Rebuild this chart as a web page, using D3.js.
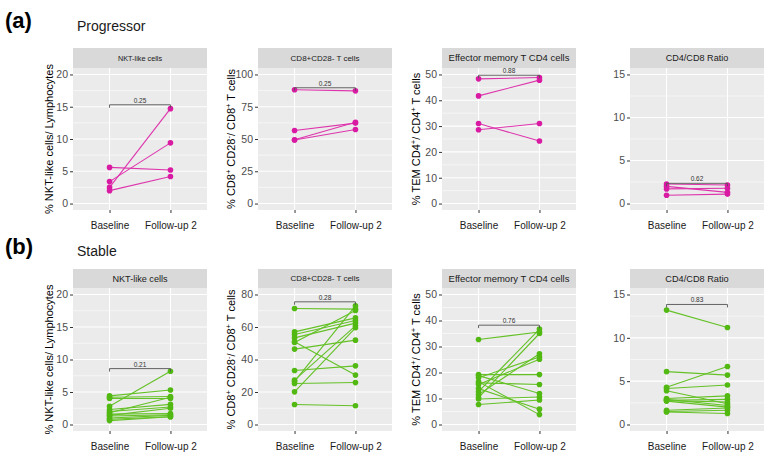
<!DOCTYPE html>
<html><head><meta charset="utf-8">
<script src="https://cdn.jsdelivr.net/npm/d3@7"></script>
<style>body{margin:0;background:#fff}svg{display:block;font-family:"Liberation Sans",Arial,sans-serif}</style>
</head><body><svg id="c" width="774" height="463"></svg>
<script>
// ---------- data ----------
const timepoints = ["Baseline", "Follow-up 2"];
const metrics = ["NKT-like cells", "CD8+CD28- T cells", "Effector memory T CD4 cells", "CD4/CD8 Ratio"];

// Progressor (a)
const progNKTBase    = [5.6, 3.4, 2.5, 2.0];
const progNKTFollow  = [5.2, 9.4, 14.7, 4.2];
const progCD8Base    = [88.1, 56.6, 49.4, 49.2];
const progCD8Follow  = [87.3, 62.3, 63.0, 57.4];
const progTEMBase    = [48.3, 41.7, 31.0, 28.6];
const progTEMFollow  = [48.8, 47.8, 24.2, 31.0];
const progRatioBase  = [2.27, 2.0, 1.7, 0.96];
const progRatioFollow= [2.15, 1.3, 1.77, 1.1];
const progP          = ["0.25", "0.25", "0.88", "0.62"];
const progBracket    = [15.3, 89.7, 49.7, 2.35];
const progTicks      = [[0,5,10,15,20],[0,25,50,75,100],[0,10,20,30,40,50],[0,5,10,15]];

// Stable (b)
const stabNKTBase    = [4.4, 4.2, 4.0, 2.8, 2.3, 2.0, 1.8, 1.6, 1.4, 1.3, 1.0, 0.8, 0.6];
const stabNKTFollow  = [5.3, 4.3, 4.0, 8.2, 3.1, 2.7, 4.2, 1.7, 2.5, 1.5, 1.4, 1.2, 1.2];
const stabCD8Base    = [71.4, 57.0, 55.4, 53.3, 50.9, 50.5, 46.4, 33.2, 27.3, 26.5, 25.2, 20.1, 12.3];
const stabCD8Follow  = [71.0, 65.6, 64.0, 62.4, 30.4, 70.2, 51.9, 36.1, 60.7, 73.0, 25.8, 59.5, 11.5];
const stabTEMBase    = [32.7, 19.2, 18.8, 18.0, 16.4, 16.0, 15.4, 13.8, 12.6, 11.5, 10.3, 9.8, 7.7];
const stabTEMFollow  = [35.6, 19.2, 11.9, 26.0, 3.8, 15.4, 25.1, 5.9, 36.7, 27.2, 35.0, 10.6, 9.4];
const stabRatioBase  = [13.2, 6.1, 4.3, 4.15, 3.9, 3.0, 2.9, 2.8, 2.75, 1.65, 1.5, 1.45, 2.7];
const stabRatioFollow= [11.2, 5.7, 6.7, 4.55, 2.4, 3.3, 2.2, 2.9, 2.6, 1.9, 1.65, 1.27, 2.0];
const stabP          = ["0.21", "0.28", "0.76", "0.83"];
const stabBracket    = [8.6, 75.5, 38.2, 13.85];
const stabTicks      = [[0,5,10,15,20],[0,20,40,60,80],[0,10,20,30,40,50],[0,5,10,15]];

// axis titles: segments, "sup" = superscript
const yTitles = [
  [{t:"% NKT-like cells/ Lymphocytes"}],
  [{t:"% CD8"},{t:"+",sup:1},{t:" CD28"},{t:"-",sup:1},{t:"/ CD8"},{t:"+",sup:1},{t:" T cells"}],
  [{t:"% TEM CD4"},{t:"+",sup:1},{t:"/ CD4"},{t:"+",sup:1},{t:" T cells"}],
  null
];

// ---------- layout / style ----------
const groups = [
  {tag:"(a)", name:"Progressor", color:"#D91AA3", lineColor:"#DE35AD",
   base:[progNKTBase,progCD8Base,progTEMBase,progRatioBase],
   follow:[progNKTFollow,progCD8Follow,progTEMFollow,progRatioFollow],
   p:progP, bracket:progBracket, ticks:progTicks,
   stripTop:48, top:68, bottom:210, tagY:28, nameY:31, stripFont:[7.3,8,9.5,9.1]},
  {tag:"(b)", name:"Stable", color:"#52B812", lineColor:"#64C126",
   base:[stabNKTBase,stabCD8Base,stabTEMBase,stabRatioBase],
   follow:[stabNKTFollow,stabCD8Follow,stabTEMFollow,stabRatioFollow],
   p:stabP, bracket:stabBracket, ticks:stabTicks,
   stripTop:269, top:288, bottom:431, tagY:254, nameY:256, stripFont:[9.1,8,9.5,9.2]}
];
const panelLefts = [73, 258, 442, 630];
const panelW = 134;
const titleOffset = [24, 27, 26];

const svg = d3.select("#c");

groups.forEach(g => {
  svg.append("text").attr("x", 5).attr("y", g.tagY).attr("font-size", 22).attr("font-weight", "bold")
    .attr("fill", "#000").text(g.tag);
  svg.append("text").attr("x", 77).attr("y", g.nameY).attr("font-size", 14).attr("fill", "#1a1a1a").text(g.name);

  metrics.forEach((m, i) => {
    const left = panelLefts[i], right = left + panelW;
    const ticks = g.ticks[i];
    const lo = 0, hi = ticks[ticks.length - 1], pad = 0.05 * (hi - lo);
    const y = d3.scaleLinear().domain([lo - pad, hi + pad]).range([g.bottom, g.top]);
    const x = d3.scalePoint().domain(timepoints).range([left, right]).padding(0.6);
    const pg = svg.append("g");

    pg.append("rect").attr("x", left).attr("y", g.top).attr("width", panelW)
      .attr("height", g.bottom - g.top).attr("fill", "#EBEBEB");
    const minors = d3.pairs(ticks).map(([a, b]) => (a + b) / 2);
    pg.selectAll(".mn").data(minors).join("line")
      .attr("x1", left).attr("x2", right).attr("y1", d => y(d)).attr("y2", d => y(d))
      .attr("stroke", "#fff").attr("stroke-width", 0.55);
    pg.selectAll(".mj").data(ticks).join("line")
      .attr("x1", left).attr("x2", right).attr("y1", d => y(d)).attr("y2", d => y(d))
      .attr("stroke", "#fff").attr("stroke-width", 1.1);
    pg.selectAll(".vx").data(timepoints).join("line")
      .attr("x1", d => x(d)).attr("x2", d => x(d)).attr("y1", g.top).attr("y2", g.bottom)
      .attr("stroke", "#fff").attr("stroke-width", 1.1);

    // strip
    pg.append("rect").attr("x", left).attr("y", g.stripTop).attr("width", panelW)
      .attr("height", g.top - g.stripTop).attr("fill", "#D9D9D9");
    pg.append("text").attr("x", (left + right) / 2).attr("y", (g.stripTop + g.top) / 2)
      .attr("dy", "0.35em").attr("text-anchor", "middle").attr("font-size", g.stripFont[i])
      .attr("fill", "#1A1A1A").text(m);

    // paired lines and points
    const b = g.base[i], f = g.follow[i];
    const pairs = b.map((v, j) => ({b: v, f: f[j]}));
    pg.selectAll(".pl").data(pairs).join("line")
      .attr("x1", x(timepoints[0])).attr("x2", x(timepoints[1]))
      .attr("y1", d => y(d.b)).attr("y2", d => y(d.f))
      .attr("stroke", g.lineColor).attr("stroke-width", 1.1);
    const pts = pairs.flatMap(d => [{t: timepoints[0], v: d.b}, {t: timepoints[1], v: d.f}]);
    pg.selectAll(".pt").data(pts).join("circle")
      .attr("cx", d => x(d.t)).attr("cy", d => y(d.v)).attr("r", 2.8).attr("fill", g.color);

    // significance bracket
    const by = y(g.bracket[i]), x0 = x(timepoints[0]), x1 = x(timepoints[1]);
    pg.append("path").attr("d", `M${x0},${by + 3}V${by}H${x1}V${by + 3}`)
      .attr("fill", "none").attr("stroke", "#555").attr("stroke-width", 0.9);
    pg.append("text").attr("x", (x0 + x1) / 2).attr("y", by - 2).attr("text-anchor", "middle")
      .attr("font-size", 6.5).attr("fill", "#333").text(g.p[i]);

    // axes
    const ay = pg.append("g").attr("transform", `translate(${left},0)`)
      .call(d3.axisLeft(y).tickValues(ticks).tickSize(3).tickPadding(2).tickFormat(d3.format("d")));
    ay.select(".domain").remove();
    ay.selectAll("line").attr("stroke", "#333");
    ay.selectAll("text").attr("fill", "#4D4D4D").attr("font-size", 10.5).attr("font-family", null);
    const ax = pg.append("g").attr("transform", `translate(0,${g.bottom})`)
      .call(d3.axisBottom(x).tickSize(3).tickPadding(9));
    ax.select(".domain").remove();
    ax.selectAll("line").attr("stroke", "#333");
    ax.selectAll("text").attr("fill", "#1a1a1a").attr("font-size", 10).attr("font-family", null);

    // y title
    if (yTitles[i]) {
      const cx = left - titleOffset[i], cy = (g.top + g.bottom) / 2;
      const t = pg.append("text").attr("transform", `translate(${cx + 4},${cy}) rotate(-90)`)
        .attr("text-anchor", "middle").attr("font-size", 11).attr("fill", "#000");
      let up = false;
      yTitles[i].forEach(s => {
        const ts = t.append("tspan").text(s.t);
        if (s.sup && !up) { ts.attr("dy", -4).attr("font-size", 7.5); up = true; }
        else if (s.sup) { ts.attr("font-size", 7.5); }
        else if (up) { ts.attr("dy", 4); up = false; }
      });
    }
  });
});
</script></body></html>
